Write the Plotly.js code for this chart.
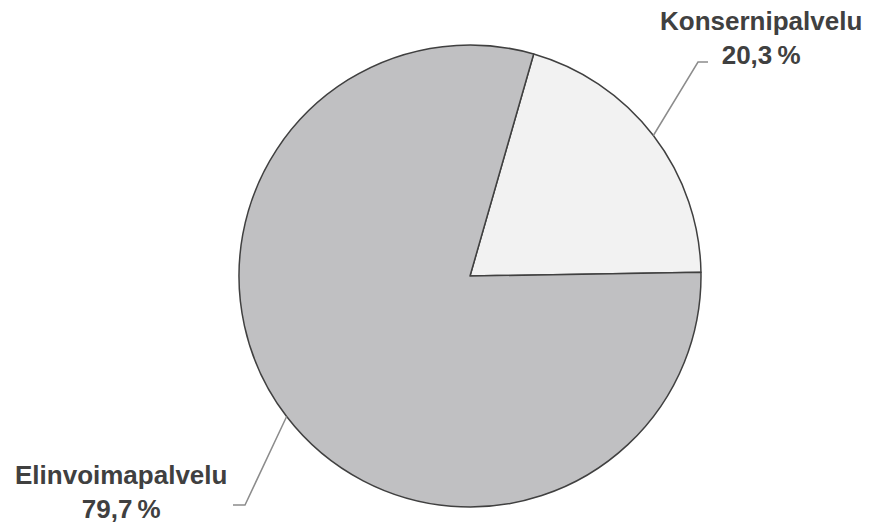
<!DOCTYPE html>
<html>
<head>
<meta charset="utf-8">
<script src="https://cdn.plot.ly/plotly-3.0.1.min.js"></script>
<style>html,body{margin:0;padding:0;background:#fff;}#chart{width:871px;height:525px;}</style>
</head>
<body>
<div id="chart"></div>
<script>
const categories = ["Konsernipalvelu", "Elinvoimapalvelu"];
const values = [20.3, 79.7];
const sliceColors = ["#f2f2f2", "#c0c0c2"];

const W = 871, H = 525;
const cx = 470, cy = 276, R = 231;
const rotation = 16;
const px = x => x / W;
const py = y => 1 - y / H;
const fmt = v => v.toFixed(1).replace('.', ',') + '\u2009%';

// slice mid angles (degrees clockwise from 12 o'clock)
const total = values.reduce((a, b) => a + b, 0);
let acc = rotation;
const mids = values.map(v => { const a = acc + v / total * 180; acc += v / total * 360; return a; });
const edge = a => [cx + R * Math.sin(a * Math.PI / 180), cy - R * Math.cos(a * Math.PI / 180)];

const p0 = edge(mids[0]);
const p1 = edge(mids[1]);

const lineStyle = {color: "#8c8c8c", width: 1.5};
const shapes = [
  {type: "path", xref: "paper", yref: "paper",
   path: `M ${px(p0[0])} ${py(p0[1])} L ${px(698)} ${py(62)} L ${px(708)} ${py(62)}`, line: lineStyle},
  {type: "path", xref: "paper", yref: "paper",
   path: `M ${px(p1[0])} ${py(p1[1])} L ${px(245)} ${py(505)} L ${px(233)} ${py(505)}`, line: lineStyle}
];

const font = {family: "Liberation Sans, Arial, sans-serif", size: 26, color: "#404040"};
const annotations = [
  {xref: "paper", yref: "paper", x: px(761), y: py(38), xanchor: "center", yanchor: "middle",
   text: `<b>${categories[0]}</b><br><b>${fmt(values[0])}</b>`, showarrow: false, align: "center", font: font},
  {xref: "paper", yref: "paper", x: px(121), y: py(492), xanchor: "center", yanchor: "middle",
   text: `<b>${categories[1]}</b><br><b>${fmt(values[1])}</b>`, showarrow: false, align: "center", font: font}
];

const trace = {
  type: "pie",
  labels: categories,
  values: values,
  sort: false,
  direction: "clockwise",
  rotation: rotation,
  textinfo: "none",
  hoverinfo: "none",
  marker: {colors: sliceColors, line: {color: "#404040", width: 1.5}},
  domain: {x: [px(cx - R), px(cx + R)], y: [py(cy + R), py(cy - R)]}
};

const layout = {
  width: W, height: H,
  margin: {l: 0, r: 0, t: 0, b: 0},
  paper_bgcolor: "#ffffff",
  showlegend: false,
  shapes: shapes,
  annotations: annotations
};

Plotly.newPlot("chart", [trace], layout, {displayModeBar: false, staticPlot: true});
</script>
</body>
</html>
